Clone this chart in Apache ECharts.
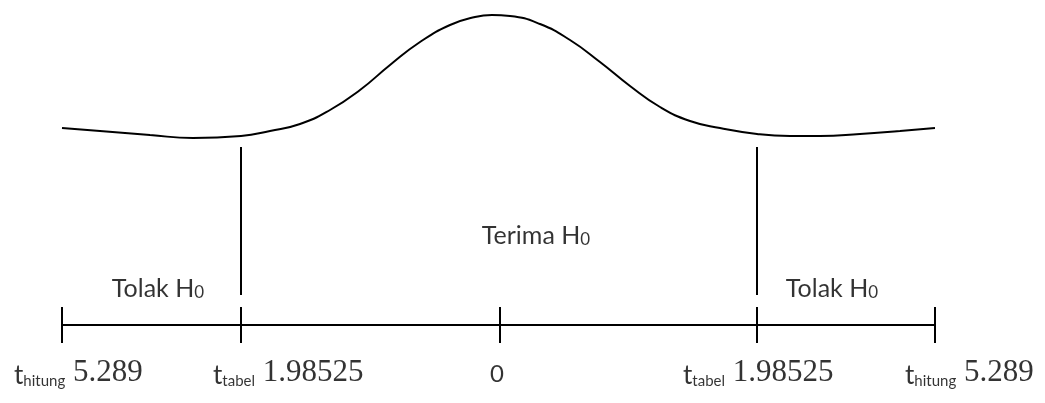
<!DOCTYPE html>
<html>
<head>
<meta charset="utf-8">
<title>Uji t</title>
<script src="https://cdn.jsdelivr.net/npm/echarts@6/dist/echarts.min.js"></script>
<style>
  html, body { margin: 0; padding: 0; background: #fff; }
  #main { width: 1045px; height: 403px; }
</style>
</head>
<body>
<div id="main"></div>
<script>
// curve (x = position, y = height above the axis line)
var curveX = [62, 100, 150, 193, 241, 270, 300, 330, 360, 390, 420, 450, 475, 492, 510, 540, 570, 600, 630, 660, 690, 720, 757, 790, 820, 860, 900, 935];
var curveY = [197, 194, 190, 187, 189, 194, 201, 215, 235, 260, 283, 300, 308, 310, 309, 301, 285, 263, 239, 218, 204, 197, 191, 189, 189, 191, 194, 197];

// region borders and axis ticks
var borderX = [241, 757];
var borderTop = 178, borderBottom = 30;
var tickX = [62, 241, 500, 757, 935];
var tickHalf = 18;

// region texts
var regionText = ['Tolak', 'Terima', 'Tolak'];
var regionX = [158, 536, 832];
var regionY = [36, 89, 36];

// tick labels under the axis
var tickSym = ['hitung', 'tabel', '', 'tabel', 'hitung'];
var tickNum = ['5.289', '1.98525', '0', '1.98525', '5.289'];
var tickLabelX = [14, 213, 490, 683, 905];
var tickLabelY = -48;

var black = '#000';
var series = [];

series.push({
    type: 'line',
    data: curveX.map(function (x, i) { return [x, curveY[i]]; }),
    smooth: 0.5,
    symbol: 'none',
    lineStyle: { color: black, width: 2 }
});

borderX.forEach(function (x) {
    series.push({
        type: 'line', symbol: 'none',
        data: [[x, borderTop], [x, borderBottom]],
        lineStyle: { color: black, width: 2 }
    });
});

// axis line
series.push({
    type: 'line', symbol: 'none',
    data: [[tickX[0], 0], [tickX[tickX.length - 1], 0]],
    lineStyle: { color: black, width: 2 }
});
tickX.forEach(function (x) {
    series.push({
        type: 'line', symbol: 'none',
        data: [[x, -tickHalf], [x, tickHalf]],
        lineStyle: { color: black, width: 2 }
    });
});

var sansRich = {
    m: { fontFamily: 'Lato', fontSize: 25, color: black, lineHeight: 25, verticalAlign: 'bottom' },
    s: { fontFamily: 'Lato', fontSize: 17, color: black, lineHeight: 17, verticalAlign: 'bottom' }
};

series.push({
    type: 'scatter',
    symbolSize: 0,
    data: regionX.map(function (x, i) { return { value: [x, regionY[i]], name: regionText[i] }; }),
    label: {
        show: true, position: 'inside',
        formatter: function (p) { return '{m|' + p.name + ' H}{s|0}'; },
        rich: sansRich
    }
});

series.push({
    type: 'scatter',
    symbolSize: 0,
    data: tickLabelX.map(function (x, i) { return { value: [x, tickLabelY], name: String(i) }; }),
    label: {
        show: true, position: 'right', distance: 0,
        formatter: function (p) {
            var i = +p.name;
            if (!tickSym[i]) return '{z|' + tickNum[i] + '}';
            return '{t|t}{s|' + tickSym[i] + '}{n| ' + tickNum[i] + '}';
        },
        rich: {
            t: { fontFamily: 'Lato', fontSize: 26, color: black, lineHeight: 26, verticalAlign: 'bottom' },
            s: { fontFamily: 'Lato', fontSize: 15, color: black, lineHeight: 15, verticalAlign: 'bottom' },
            n: { fontFamily: 'Liberation Serif', fontSize: 31, color: black, lineHeight: 31, verticalAlign: 'bottom' },
            z: { fontFamily: 'Lato', fontSize: 24, color: black, lineHeight: 26, verticalAlign: 'bottom' }
        }
    }
});

var chart = echarts.init(document.getElementById('main'), null, { renderer: 'canvas' });
chart.setOption({
    animation: false,
    backgroundColor: '#fff',
    grid: { left: 0, right: 0, top: 0, bottom: 0 },
    xAxis: { type: 'value', min: 0, max: 1045, show: false },
    yAxis: { type: 'value', min: -78, max: 325, show: false },
    series: series
});
</script>
</body>
</html>
